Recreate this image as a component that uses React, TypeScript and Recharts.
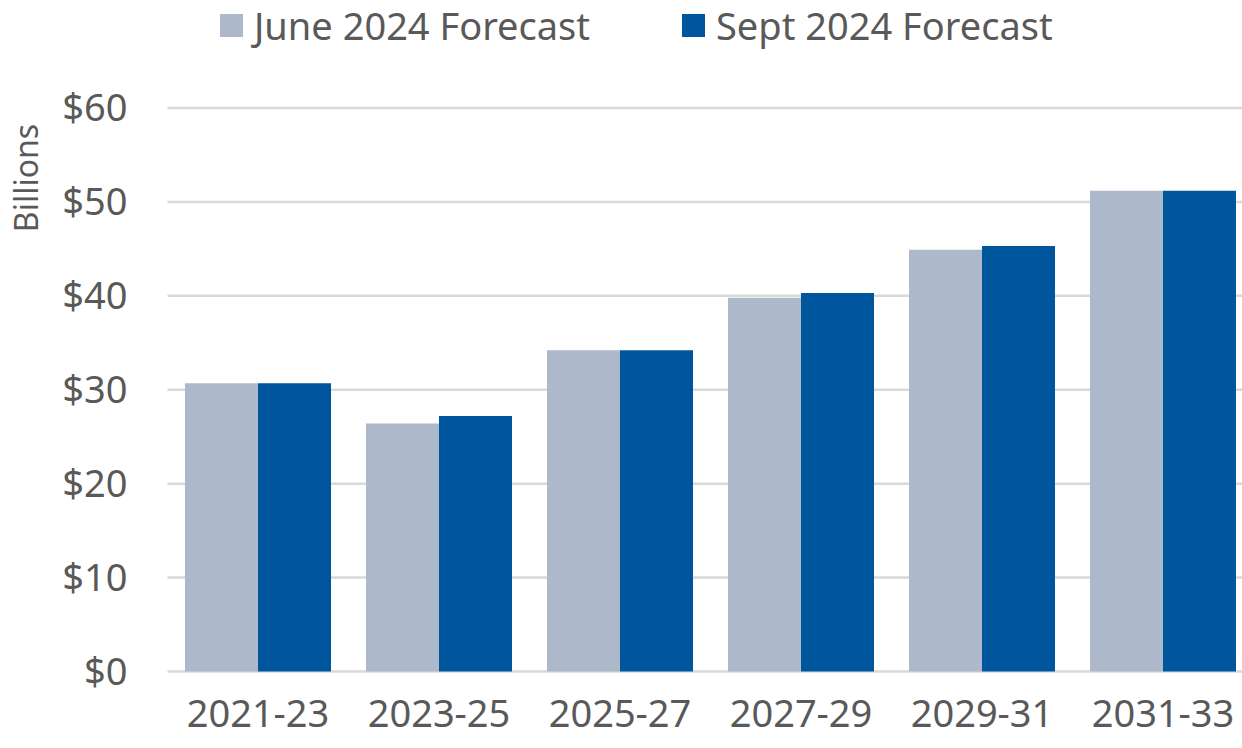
import React from "react";
import { BarChart, Bar, XAxis, YAxis, CartesianGrid } from "recharts";

const categories = ["2021-23", "2023-25", "2025-27", "2027-29", "2029-31", "2031-33"];
const juneForecast = [30.7, 26.4, 34.2, 39.8, 44.9, 51.2];
const septForecast = [30.7, 27.2, 34.2, 40.3, 45.3, 51.2];
const yTicks = [0, 10, 20, 30, 40, 50, 60];
const seriesNames = ["June 2024 Forecast", "Sept 2024 Forecast"];
const seriesColors = ["#ADB9CA", "#00569C"];

const data = categories.map((c, i) => ({
  period: c,
  june: juneForecast[i],
  sept: septForecast[i],
}));

const FONT = "'Noto Sans', 'DejaVu Sans', sans-serif";
const TEXT = "#595959";

const legendPos = [
  { sq: 220, tx: 254 },
  { sq: 682, tx: 716 },
];

export default function App() {
  return (
    <div
      style={{
        position: "absolute",
        left: 0,
        top: 0,
        width: 1242,
        height: 748,
        overflow: "hidden",
        background: "#fff",
        fontFamily: FONT,
      }}
    >
      {seriesNames.map((n, i) => (
        <div key={n}>
          <div
            style={{
              position: "absolute",
              left: legendPos[i].sq,
              top: 14,
              width: 23,
              height: 23,
              background: seriesColors[i],
            }}
          />
          <div
            style={{
              position: "absolute",
              left: legendPos[i].tx,
              top: 0,
              height: 50,
              lineHeight: "50px",
              fontSize: 38,
              color: TEXT,
              whiteSpace: "nowrap",
            }}
          >
            {n}
          </div>
        </div>
      ))}
      <BarChart
        width={1260}
        height={748}
        data={data}
        margin={{ top: 108, right: 6.5, bottom: 16.5, left: 7.5 }}
        barCategoryGap={17.5}
        barGap={0}
      >
        <CartesianGrid vertical={false} stroke="#D9D9D9" strokeWidth={2.5} />
        <XAxis
          dataKey="period"
          axisLine={false}
          tickLine={false}
          tickSize={0}
          tickMargin={29}
          height={60}
          interval={0}
          tick={{ fill: TEXT, fontSize: 38, fontFamily: FONT }}
        />
        <YAxis
          domain={[0, 60]}
          ticks={yTicks}
          width={160}
          axisLine={false}
          tickLine={false}
          tickSize={0}
          tickMargin={40}
          tickFormatter={(v: number) => `$${v}`}
          tick={{ fill: TEXT, fontSize: 38, fontFamily: FONT }}
          label={{
            content: (props: any) => {
              const vb = props.viewBox || { x: 0, y: 0 };
              const cx = vb.x + 18;
              const cy = vb.y + 70;
              return (
                <text
                  x={cx}
                  y={cy}
                  transform={`rotate(-90 ${cx} ${cy})`}
                  textAnchor="middle"
                  dominantBaseline="central"
                  fill={TEXT}
                  fontSize={32}
                  fontFamily={FONT}
                >
                  Billions
                </text>
              );
            },
          }}
        />
        <Bar dataKey="june" name={seriesNames[0]} fill={seriesColors[0]} isAnimationActive={false} />
        <Bar dataKey="sept" name={seriesNames[1]} fill={seriesColors[1]} isAnimationActive={false} />
      </BarChart>
    </div>
  );
}
